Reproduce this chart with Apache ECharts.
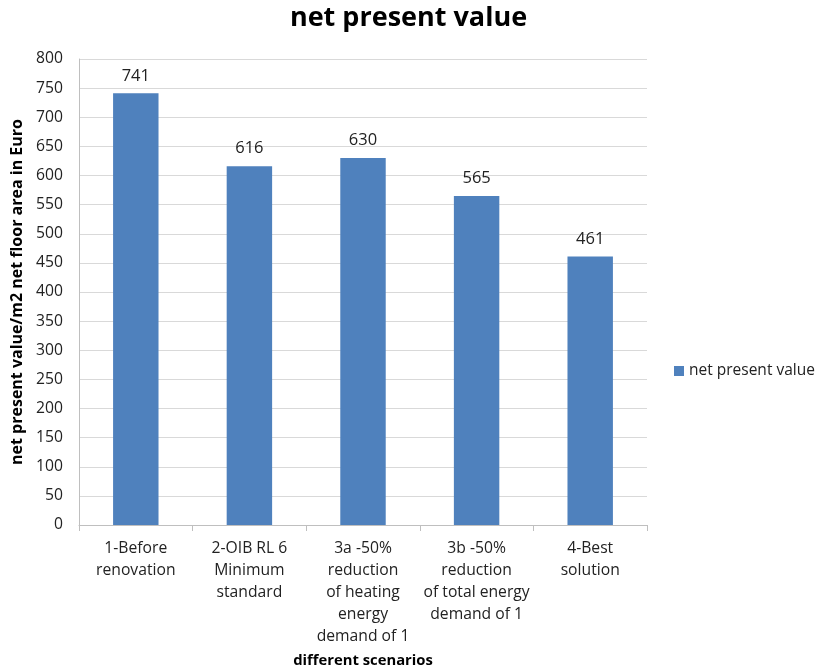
<!DOCTYPE html>
<html>
<head>
<meta charset="utf-8">
<script src="https://cdn.jsdelivr.net/npm/echarts@6/dist/echarts.min.js"></script>
<style>
  html, body { margin: 0; padding: 0; background: #fff; }
  #chart { width: 817px; height: 672px; }
</style>
</head>
<body>
<div id="chart"></div>
<script>
// Scenario names (line breaks as shown under the axis)
const categories = [
  '1-Before\nrenovation',
  '2-OIB RL 6\nMinimum\nstandard',
  '3a -50%\nreduction\nof heating\nenergy\ndemand of 1',
  '3b -50%\nreduction\nof total energy\ndemand of 1',
  '4-Best\nsolution'
];
// Net present value per m2 net floor area (Euro)
const npvValues = [741, 616, 630, 565, 461];
const seriesName = 'net present value';

const font = '"Open Sans", "DejaVu Sans", sans-serif';
const chart = echarts.init(document.getElementById('chart'));

chart.setOption({
  animation: false,
  backgroundColor: '#ffffff',
  title: {
    text: 'net present value',
    left: 'center',
    top: 0,
    textStyle: { fontFamily: font, fontSize: 27, fontWeight: 'bold', color: '#000' }
  },
  legend: {
    data: [seriesName],
    orient: 'vertical',
    left: 669,
    top: 358,
    itemWidth: 10,
    itemHeight: 10,
    itemGap: 6,
    icon: 'rect',
    textStyle: { fontFamily: font, fontSize: 15.5, color: '#222' }
  },
  grid: {
    left: 79, right: 170, top: 59, bottom: 147,
    containLabel: false,
    outerBoundsMode: 'none'
  },
  xAxis: {
    type: 'category',
    data: categories,
    name: 'different scenarios',
    nameLocation: 'middle',
    nameGap: 128,
    nameTextStyle: { fontFamily: font, fontSize: 14.8, fontWeight: 'bold', color: '#000' },
    axisLine: { lineStyle: { color: '#bfbfbf', width: 1 } },
    axisTick: { show: true, length: 6, lineStyle: { color: '#bfbfbf' } },
    axisLabel: {
      interval: 0,
      margin: 13,
      fontFamily: font,
      fontSize: 15.7,
      lineHeight: 22,
      color: '#222'
    }
  },
  yAxis: {
    type: 'value',
    min: 0,
    max: 800,
    interval: 50,
    name: 'net present value/m2 net floor area in Euro',
    nameLocation: 'middle',
    nameGap: 52,
    nameTextStyle: { fontFamily: font, fontSize: 16, fontWeight: 'bold', color: '#000' },
    axisLine: { show: true, lineStyle: { color: '#bfbfbf', width: 1 } },
    axisTick: { show: false },
    axisLabel: { fontFamily: font, fontSize: 15.7, color: '#222', margin: 16 },
    splitLine: { lineStyle: { color: '#d9d9d9', width: 1 } }
  },
  series: [{
    name: seriesName,
    type: 'bar',
    data: npvValues,
    barWidth: '40%',
    itemStyle: { color: '#4F81BD' },
    label: {
      show: true,
      position: 'top',
      distance: 9,
      fontFamily: font,
      fontSize: 16.5,
      color: '#222'
    }
  }]
});
</script>
</body>
</html>
